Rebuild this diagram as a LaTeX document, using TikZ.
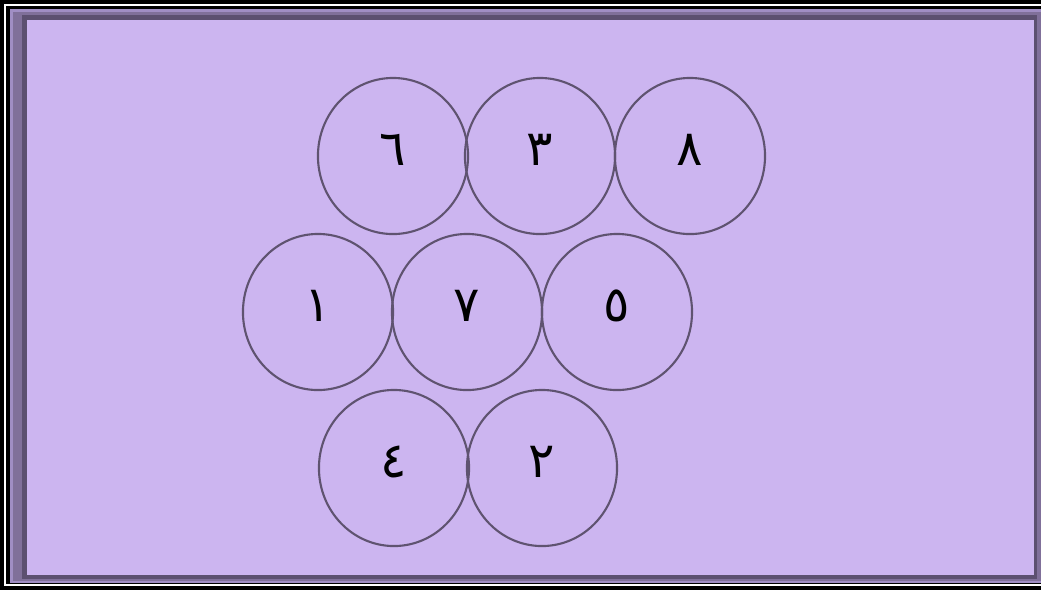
\documentclass[tikz,border=0pt]{standalone}
\usepackage{fontspec}
\usetikzlibrary{shapes.geometric}
\newfontfamily\arabicfont[Script=Arabic]{DejaVu Sans}
\definecolor{bgfill}{RGB}{204,181,240}
\definecolor{framedark}{RGB}{92,80,112}
\definecolor{framemid}{RGB}{128,112,154}
\definecolor{framelight}{RGB}{160,142,196}
\definecolor{ringcol}{RGB}{95,83,112}
\tikzset{
  ring/.style={ellipse, draw=ringcol, line width=0.6pt, minimum width=1.50cm, minimum height=1.56cm,
    inner sep=0pt, text height=10.5pt, text depth=5.1pt,
    font=\arabicfont\fontsize{14}{16}\selectfont}
}
\begin{document}
\begin{tikzpicture}[x=0.01cm,y=-0.01cm]
\useasboundingbox (0,0) rectangle (1041,590);
% frame
\fill[black] (0,0) rectangle (1041,590);
\fill[white] (4,3.5) rectangle (1045,585.5);
\fill[black] (6,5.5) rectangle (1045,584);
\fill[framelight] (10,9) rectangle (1045,583);
\fill[framemid] (13,12) rectangle (1041,581);
\fill[framedark] (22,15) rectangle (1037,579);
\fill[bgfill] (27,20) rectangle (1034,575);
% circles
\node[ring] (c6) at (393,156) {٦};
\node[ring] (c3) at (540,156) {٣};
\node[ring] (c8) at (690,156) {٨};
\node[ring] (c1) at (318,312) {١};
\node[ring] (c7) at (467,312) {٧};
\node[ring] (c5) at (617,312) {٥};
\node[ring] (c4) at (394,468) {٤};
\node[ring] (c2) at (542,468) {٢};
\end{tikzpicture}
\end{document}
